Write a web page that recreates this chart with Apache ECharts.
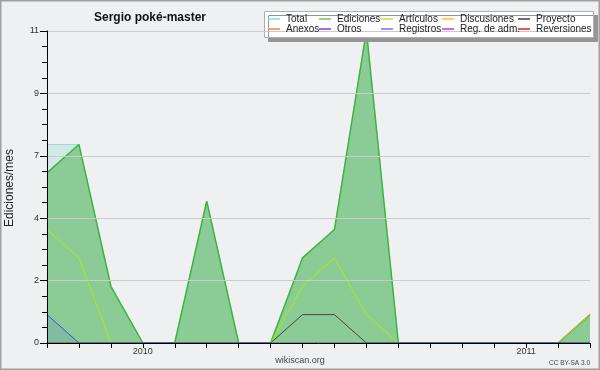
<!DOCTYPE html>
<html>
<head>
<meta charset="utf-8">
<script src="https://cdn.jsdelivr.net/npm/echarts@6/dist/echarts.min.js"></script>
<style>
  html, body { margin: 0; padding: 0; background: #fff; }
  #chart { width: 600px; height: 370px; }
</style>
</head>
<body>
<div id="chart"></div>
<script>
// meses, oct 2009 - mar 2011
var months = ['2009-10', '2009-11', '2009-12', '2010-01', '2010-02', '2010-03', '2010-04', '2010-05', '2010-06',
  '2010-07', '2010-08', '2010-09', '2010-10', '2010-11', '2010-12', '2011-01', '2011-02', '2011-03'];

var total       = [7, 7, 2, 0, 0, 5, 0, 0, 3, 4, 11, 0, 0, 0, 0, 0, 0, 1];
var ediciones   = [6, 7, 2, 0, 0, 5, 0, 0, 3, 4, 11, 0, 0, 0, 0, 0, 0, 1];
var articulos   = [4, 3, 0, 0, 0, 0, 0, 0, 2, 3, 1, 0, 0, 0, 0, 0, 0, 0];
var discusiones = [0, 0, 0, 0, 0, 0, 0, 0, 0, 0, 0, 0, 0, 0, 0, 0, 0, 1];
var proyecto    = [0, 0, 0, 0, 0, 0, 0, 0, 1, 1, 0, 0, 0, 0, 0, 0, 0, 0];
var registros   = [1, 0, 0, 0, 0, 0, 0, 0, 0, 0, 0, 0, 0, 0, 0, 0, 0, 0];

var yearLabels = {'2010-01': '2010', '2011-01': '2011'};

var legendCols = [
  ['Total', 'Anexos'],
  ['Ediciones', 'Otros'],
  ['Artículos', 'Registros'],
  ['Discusiones', 'Reg. de adm.'],
  ['Proyecto', 'Reversiones']
];
var legendColors = {
  'Total': '#9adcd8', 'Anexos': '#ff8a4c', 'Ediciones': '#7ccc7c', 'Otros': '#9a4cee',
  'Artículos': '#bbee44', 'Registros': '#7a88ee', 'Discusiones': '#ffcc44',
  'Reg. de adm.': '#dd44ee', 'Proyecto': '#555555', 'Reversiones': '#ee3333'
};
var legendX = [268, 319, 381, 442, 518];

var myChart = echarts.init(document.getElementById('chart'));
var font = 'Liberation Sans, Arial, sans-serif';

function linea(name, data, color, width, area) {
  var s = {
    name: name,
    type: 'line',
    data: data,
    symbol: 'none',
    lineStyle: {color: color, width: width},
    itemStyle: {color: color},
    emphasis: {disabled: true},
    silent: true,
    animation: false
  };
  if (area) s.areaStyle = {color: area, opacity: 1};
  return s;
}

var series = [
  linea('Total', total, '#9adcd8', 1, 'rgba(150,220,205,0.32)'),
  linea('Ediciones', ediciones, '#3cb43c', 1.5, 'rgba(40,160,40,0.42)'),
  linea('Artículos', articulos, '#aaf000', 1),
  linea('Discusiones', discusiones, '#e8c000', 1),
  linea('Proyecto', proyecto, '#444444', 1),
  linea('Registros', registros, '#3050e8', 1, 'rgba(60,90,230,0.13)'),
  linea('Anexos', [], '#ff8a4c', 1),
  linea('Otros', [], '#9a4cee', 1),
  linea('Reg. de adm.', [], '#dd44ee', 1),
  linea('Reversiones', [], '#ee3333', 1)
];

var legends = legendCols.map(function (col, i) {
  return {
    orient: 'vertical',
    left: legendX[i],
    top: 14,
    itemGap: 0,
    itemWidth: 12,
    itemHeight: 2,
    icon: 'rect',
    selectedMode: false,
    padding: 0,
    z: 6,
    textStyle: {fontFamily: font, fontSize: 10, color: '#222', lineHeight: 10, padding: [0, 0, 0, 1]},
    data: col.map(function (n) {
      return {name: n, itemStyle: {color: legendColors[n], opacity: 0.85}};
    })
  };
});

option = {
  backgroundColor: '#eff0f2',
  animation: false,
  title: {
    text: 'Sergio poké-master',
    left: 145,
    top: 7,
    textAlign: 'center',
    textStyle: {fontFamily: font, fontSize: 12, fontWeight: 'bold', color: '#111'}
  },
  legend: legends,
  grid: {left: 47, right: 10, top: 31, bottom: 27},
  xAxis: {
    type: 'category',
    data: months,
    boundaryGap: false,
    z: 5,
    axisLine: {lineStyle: {color: '#000', width: 1}},
    axisTick: {show: true, length: 5, interval: 0, lineStyle: {color: '#000'}},
    axisLabel: {
      interval: function (idx, val) { return !!yearLabels[val]; },
      formatter: function (val) { return yearLabels[val] || ''; },
      fontFamily: font, fontSize: 9, color: '#333', margin: 4
    },
    splitLine: {show: false}
  },
  yAxis: {
    type: 'value',
    min: 0,
    max: 11,
    interval: 2.2,
    z: 5,
    axisLine: {show: true, lineStyle: {color: '#000', width: 1}},
    axisTick: {show: true, length: 7, lineStyle: {color: '#000'}},
    minorTick: {show: true, splitNumber: 4, length: 5, lineStyle: {color: '#000'}},
    axisLabel: {
      fontFamily: font, fontSize: 9, color: '#333', margin: 8,
      formatter: function (v) { return String(Math.round(v)); }
    },
    splitLine: {show: true, lineStyle: {color: '#cacaca', width: 1}}
  },
  graphic: [
    {
      type: 'rect', z: 4,
      shape: {x: 264.5, y: 11.5, width: 329, height: 26},
      style: {fill: '#fff', stroke: '#b0b0b0', lineWidth: 1,
        shadowColor: '#959595', shadowOffsetX: 4, shadowOffsetY: 4, shadowBlur: 0}
    },
    {
      type: 'text', x: 10, y: 188, rotation: Math.PI / 2,
      style: {text: 'Ediciones/mes', fontFamily: font, fontSize: 12, fill: '#222',
        textAlign: 'center', textVerticalAlign: 'middle'}
    },
    {
      type: 'text', x: 300, y: 361,
      style: {text: 'wikiscan.org', fontFamily: font, fontSize: 9, fill: '#444',
        textAlign: 'center', textVerticalAlign: 'middle'}
    },
    {
      type: 'text', x: 590, y: 363,
      style: {text: 'CC BY-SA 3.0', fontFamily: font, fontSize: 6.5, fill: '#444',
        textAlign: 'right', textVerticalAlign: 'middle'}
    },
    {
      type: 'rect', z: 10, silent: true,
      shape: {x: 0.5, y: 0.5, width: 599, height: 369},
      style: {fill: 'none', stroke: '#a0a0a0', lineWidth: 2}
    }
  ],
  series: series
};

myChart.setOption(option);
</script>
</body>
</html>
